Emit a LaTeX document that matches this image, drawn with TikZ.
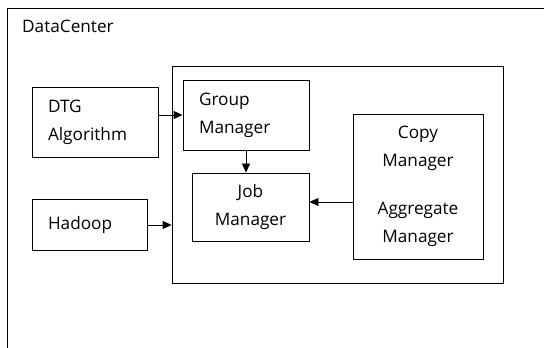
\documentclass[tikz,border=0pt]{standalone}
\usepackage{fontspec}
\setmainfont{Open Sans}
\usetikzlibrary{arrows.meta, positioning}

\begin{document}
\begin{tikzpicture}[x=1pt, y=1pt,
    box/.style={draw, thick, inner xsep=0pt, inner ysep=0pt},
    link/.style={-{Triangle[length=9pt, width=8pt]}, thick},
    font=\fontsize{17.2pt}{28pt}\selectfont]
    \useasboundingbox (0,0) rectangle (544,348);
    \clip (0,0) rectangle (544,348);

    % Data center frame
    \node (dc) [draw, thick, anchor=north west, minimum width=560pt, minimum height=360pt] at (7,340) {};
    \node (dclabel) [anchor=north west, inner sep=0pt] at (22,328) {DataCenter};

    % Container of the managers
    \node (core) [draw, thick, minimum width=331pt, minimum height=217pt] at (337.5,173.5) {};

    % Inputs
    \node (dtg) [box, minimum width=126pt, minimum height=70pt, text width=94pt, align=left] at (95,226) {DTG\\Algorithm};
    \node (hadoop) [box, minimum width=115pt, minimum height=51pt, text width=83pt, align=left] at (89.5,123) {Hadoop};

    % Managers
    \node (grp) [box, minimum width=126pt, minimum height=70pt, text width=94pt, align=left] at (246,233) {Group\\Manager};
    \node (job) [box, minimum width=117pt, minimum height=68pt, align=center] at (250.5,141) {Job\\Manager};
    \node (copy) [box, minimum width=130pt, minimum height=145pt, align=center] at (418,161.5) {Copy\\Manager\\[20pt]Aggregate\\Manager};

    % Arrows
    \draw[link] (grp.west -| dtg.east) -- (grp.west);
    \draw[link] (grp.south) -- (grp.south |- job.north);
    \draw[link] (hadoop.east) -- (hadoop.east -| core.west);
    \draw[link] ([yshift=5pt]job.east -| copy.west) -- ([yshift=5pt]job.east);
\end{tikzpicture}
\end{document}
